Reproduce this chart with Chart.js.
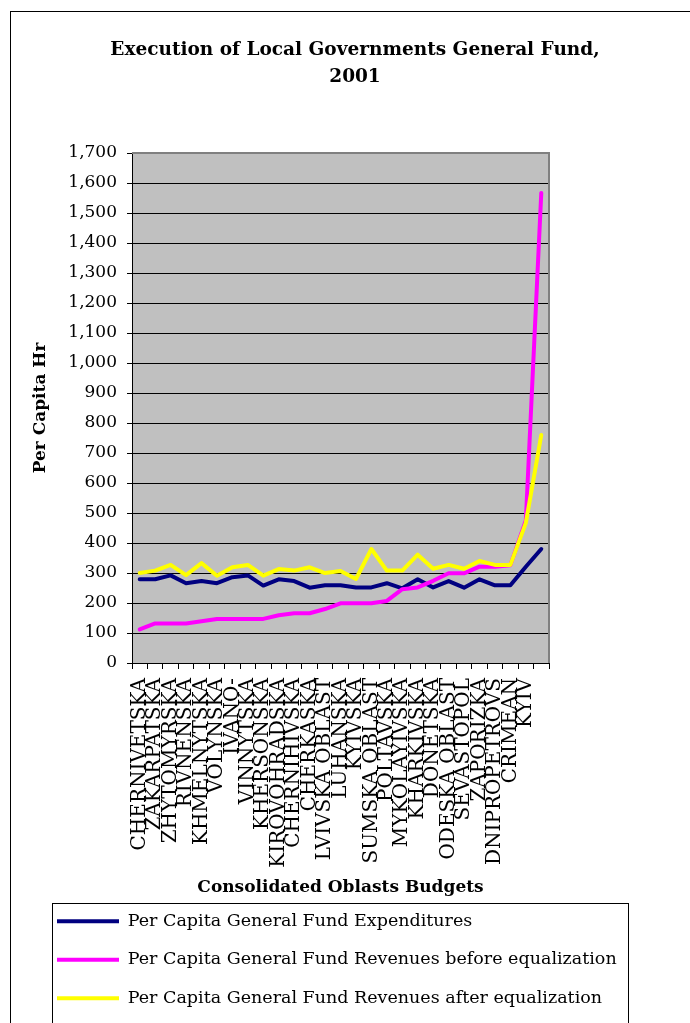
<!DOCTYPE html>
<html><head><meta charset="utf-8">
<script src="https://cdn.jsdelivr.net/npm/chart.js@4.4.1/dist/chart.umd.min.js"></script>
<style>html,body{margin:0;padding:0;background:#fff}#wrap{width:690px;height:1023px;position:relative}</style>
</head><body><div id="wrap"><canvas id="c" width="690" height="1023"></canvas></div>
<script>
const categories = ['CHERNIVETSKA','ZAKARPATSKA','ZHYTOMYRSKA','RIVNENSKA','KHMELNYTSKA','VOLYNSKA','IVANO-','VINNYTSKA','KHERSONSKA','KIROVOHRADSKA','CHERNIHIVSKA','CHERKASKA','LVIVSKA OBLAST','LUHANSKA','KYIVSKA','SUMSKA OBLAST','POLTAVSKA','MYKOLAYIVSKA','KHARKIVSKA','DONETSKA','ODESKA OBLAST','SEVASTOPOL','ZAPORIZKA','DNIPROPETROVS','CRIMEAN','KYIV',''];
const expenditures = [279,279,292,266,273,266,286,292,258,279,273,251,259,259,252,252,266,249,279,252,273,251,279,259,259,321,380];
const revenuesBefore = [112,132,132,132,139,147,147,147,147,159,166,166,180,199,199,199,207,246,252,274,299,299,321,321,326,475,1567];
const revenuesAfter = [300,308,327,293,333,291,319,327,291,313,308,319,300,307,280,380,308,308,361,314,327,314,340,327,327,467,760];
const seriesNames = ['Per Capita General Fund Expenditures','Per Capita General Fund Revenues before equalization','Per Capita General Fund Revenues after equalization'];
const seriesColors = ['#000080','#FF00FF','#FFFF00'];
const titleLines = ['Execution of Local Governments General Fund,','2001'];
const xTitle = 'Consolidated Oblasts Budgets';
const yTitle = 'Per Capita Hr';
const yMin = 0, yMax = 1700, yStep = 100;

const FONT = 'DejaVu Serif';

const deco = {
  id: 'deco',
  afterLayout(chart) {
    if (chart.titleBlock) { chart.titleBlock.left = 20; }
    if (chart.legend) { chart.legend.left = 36; }
  },
  beforeDraw(chart) {
    const ctx = chart.ctx, a = chart.chartArea;
    ctx.save();
    ctx.fillStyle = '#fff';
    ctx.fillRect(0, 0, chart.width, chart.height);
    ctx.strokeStyle = '#000';
    ctx.lineWidth = 1;
    ctx.strokeRect(10.5, 11.5, 700, 1030);
    ctx.fillStyle = '#C0C0C0';
    ctx.fillRect(a.left, a.top, a.right - a.left, a.bottom - a.top);
    ctx.restore();
  },
  afterDraw(chart) {
    const ctx = chart.ctx, a = chart.chartArea;
    ctx.save();
    ctx.strokeStyle = '#808080';
    ctx.lineWidth = 2;
    ctx.beginPath();
    ctx.moveTo(a.left, a.top);
    ctx.lineTo(a.right, a.top);
    ctx.lineTo(a.right, a.bottom);
    ctx.stroke();
    ctx.strokeStyle = '#000';
    ctx.lineWidth = 1;
    ctx.strokeRect(52.5, 903.5, 576, 200);
    ctx.restore();
  }
};

new Chart(document.getElementById('c'), {
  type: 'line',
  data: {
    labels: categories,
    datasets: [
      { label: seriesNames[0], data: expenditures, borderColor: seriesColors[0], backgroundColor: seriesColors[0], order: 2 },
      { label: seriesNames[1], data: revenuesBefore, borderColor: seriesColors[1], backgroundColor: seriesColors[1], order: 1 },
      { label: seriesNames[2], data: revenuesAfter, borderColor: seriesColors[2], backgroundColor: seriesColors[2], order: 0 }
    ].map(d => Object.assign(d, { borderWidth: 4, pointRadius: 0, tension: 0, borderJoinStyle: 'round', borderCapStyle: 'round', fill: false }))
  },
  options: {
    responsive: false,
    devicePixelRatio: 1,
    animation: false,
    layout: { padding: { left: 0, right: 0, top: 0, bottom: 6 } },
    plugins: {
      tooltip: { enabled: false },
      title: {
        display: true, text: titleLines, color: '#000',
        font: { family: FONT, size: 18.5, weight: 'bold', lineHeight: 1.46 },
        padding: { top: 36.5, bottom: 62.5 }
      },
      legend: {
        position: 'bottom', align: 'start',
        labels: {
          usePointStyle: true, pointStyle: 'line', pointStyleWidth: 62,
          color: '#000', font: { family: FONT, size: 17.5 }, padding: 21,
          sort: (a, b) => a.datasetIndex - b.datasetIndex
        }
      }
    },
    scales: {
      x: {
        type: 'category', offset: true,
        grid: { display: true, drawOnChartArea: false, drawTicks: true, tickLength: 6, color: '#000', offset: true },
        border: { display: true, color: '#000', width: 1 },
        ticks: { autoSkip: false, maxRotation: 90, minRotation: 90, color: '#000', font: { family: FONT, size: 20 }, padding: 9 },
        title: { display: true, text: xTitle, color: '#000', font: { family: FONT, size: 17, weight: 'bold' }, padding: { top: 0, bottom: -6.7 } },
        afterFit: s => { s.height = 228.5; }
      },
      y: {
        min: yMin, max: yMax,
        grid: { color: '#000', lineWidth: 1, tickLength: 5, drawTicks: true },
        border: { display: true, color: '#000', width: 1 },
        ticks: { stepSize: yStep, color: '#000', font: { family: FONT, size: 17 }, padding: 10, callback: v => v.toLocaleString('en-US') },
        title: { display: true, text: yTitle, color: '#000', font: { family: FONT, size: 17, weight: 'bold' }, padding: { top: 30, bottom: 0 } },
        afterFit: s => { s.width = 132; }
      },
      y2: {
        position: 'right', display: true, min: 0, max: 1,
        grid: { display: false }, ticks: { display: false }, border: { display: false },
        afterFit: s => { s.width = 141; }
      }
    }
  },
  plugins: [deco]
});
</script>
</body></html>
